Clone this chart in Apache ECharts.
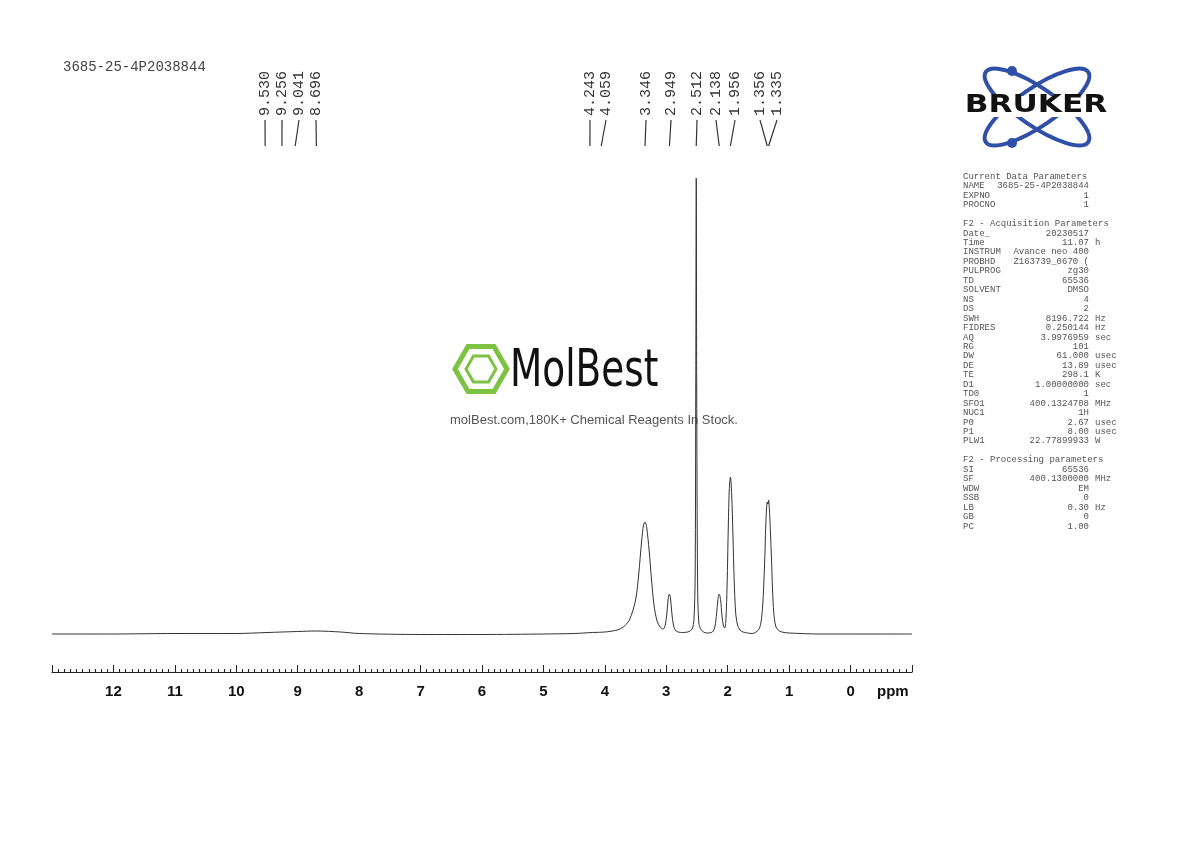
<!DOCTYPE html>
<html><head><meta charset="utf-8">
<script src="https://cdn.jsdelivr.net/npm/echarts@6/dist/echarts.min.js"></script>
<style>html,body{margin:0;padding:0;background:#fff}#c{width:1190px;height:842px}</style>
</head><body><div id="c"></div>
<script>
const spectrumPpm = [13.0,12,11,10,9.5,9,8.7,8.3,8,7,6,5,4.5,4.2,4.0,3.8,3.7,3.6,3.5,3.45,3.4,3.37,3.346,3.32,3.28,3.24,3.2,3.15,3.1,3.05,3.02,2.99,2.97,2.949,2.93,2.91,2.88,2.84,2.75,2.65,2.58,2.55,2.53,2.52,2.512,2.505,2.49,2.47,2.43,2.35,2.25,2.21,2.18,2.16,2.138,2.115,2.095,2.07,2.05,2.03,2.01,1.99,1.975,1.956,1.935,1.915,1.895,1.87,1.84,1.8,1.75,1.6,1.5,1.46,1.43,1.4,1.38,1.356,1.345,1.335,1.315,1.29,1.27,1.25,1.22,1.18,1.12,1.0,0.5,0,-0.5,-1];
const spectrumInt = [1,1,1.5,1.5,2.5,3.5,4,3,1.5,0.5,0.5,1,1.5,2.5,3,5,8,15,35,60,95,110,113,108,85,55,30,14,8,6,9,22,36,41,36,22,9,4,2.5,3,6,15,60,250,457,250,50,12,5,2,3,8,22,35,41,35,20,9,7,15,50,110,145,158,140,100,55,22,10,5,3,1.5,5,12,30,70,110,133,131,135,118,80,45,22,9,5,3,2,1,1,1,1];
const peakLabels = ['9.530','9.256','9.041','8.696','4.243','4.059','3.346','2.949','2.512','2.138','1.956','1.356','1.335'];
const labelX = [265,282,299,316,590,606,646,671,697,716,735,760,777];
const xTicks = [12,11,10,9,8,7,6,5,4,3,2,1,0];
const params = [
['Current Data Parameters',''],['NAME','3685-25-4P2038844'],['EXPNO','1'],['PROCNO','1'],['',''],
['F2 - Acquisition Parameters',''],['Date_','20230517'],['Time','11.07 h'],['INSTRUM','Avance neo 400'],['PROBHD','Z163739_0670 ('],['PULPROG','zg30'],['TD','65536'],['SOLVENT','DMSO'],['NS','4'],['DS','2'],['SWH','8196.722 Hz'],['FIDRES','0.250144 Hz'],['AQ','3.9976959 sec'],['RG','101'],['DW','61.000 usec'],['DE','13.89 usec'],['TE','298.1 K'],['D1','1.00000000 sec'],['TD0','1'],['SFO1','400.1324708 MHz'],['NUC1','1H'],['P0','2.67 usec'],['P1','8.00 usec'],['PLW1','22.77899933 W'],['',''],
['F2 - Processing parameters',''],['SI','65536'],['SF','400.1300000 MHz'],['WDW','EM'],['SSB','0'],['LB','0.30 Hz'],['GB','0'],['PC','1.00']];

const chart = echarts.init(document.getElementById('c'));
const data = spectrumPpm.map((p,i)=>[p, spectrumInt[i]]);
const mono = 'Liberation Mono';
const g = [];
g.push({type:'text',left:63,top:60,style:{text:'3685-25-4P2038844',font:'14px '+mono,fill:'#444'}});
params.forEach((r,i)=>{
  const y = 172 + i*9.45;
  if(!r[0]) return;
  g.push({type:'text',x:963,y:y,style:{text:r[0],font:'9px '+mono,fill:'#555'}});
  if(!r[1]) return;
  const parts = r[1].split(' ');
  let val=r[1], unit='';
  if(parts.length==2 && ['Hz','h','sec','usec','K','MHz','W'].includes(parts[1])){val=parts[0];unit=parts[1];}
  g.push({type:'text',x:1089,y:y,style:{text:val,font:'9px '+mono,fill:'#555',align:'right'}});
  if(unit) g.push({type:'text',x:1095,y:y,style:{text:unit,font:'9px '+mono,fill:'#555'}});
});
g.push({type:'ellipse',shape:{cx:1037,cy:107,rx:62,ry:19},rotation:0.6,originX:1037,originY:107,style:{fill:'none',stroke:'#3050a8',lineWidth:4}});
g.push({type:'ellipse',shape:{cx:1037,cy:107,rx:62,ry:19},rotation:-0.6,originX:1037,originY:107,style:{fill:'none',stroke:'#3050a8',lineWidth:4}});
g.push({type:'circle',shape:{cx:1012,cy:71,r:5},style:{fill:'#3050a8'}});
g.push({type:'circle',shape:{cx:1012,cy:143,r:5},style:{fill:'#3050a8'}});
g.push({type:'rect',shape:{x:958,y:96,width:157,height:21},style:{fill:'#fff'}});
g.push({type:'text',x:1036,y:94,scaleX:1.3,style:{text:'BRUKER',font:'900 24px DejaVu Sans',fill:'#111',align:'center'}});
const hx=481,hy=369,hr=26;
const pts=[];for(let k=0;k<6;k++){const a=Math.PI/3*k;pts.push([hx+hr*Math.cos(a),hy+hr*Math.sin(a)]);}
g.push({type:'polygon',shape:{points:pts},style:{fill:'none',stroke:'#7dc242',lineWidth:5}});
const pts2=[];for(let k=0;k<6;k++){const a=Math.PI/3*k;pts2.push([hx+15*Math.cos(a),hy+15*Math.sin(a)]);}
g.push({type:'polygon',shape:{points:pts2},style:{fill:'none',stroke:'#7dc242',lineWidth:3}});
g.push({type:'text',x:510,y:346,scaleX:0.72,style:{text:'MolBest',font:'52px DejaVu Sans',fill:'#111'}});
g.push({type:'text',x:594,y:414,style:{text:'molBest.com,180K+ Chemical Reagents In Stock.',font:'13px Liberation Sans',fill:'#555',align:'center'}});
g.push({type:'text',x:877,y:684,style:{text:'ppm',font:'bold 15px Liberation Sans',fill:'#111'}});

chart.setOption({
  animation:false,
  grid:{left:52,right:278,top:178,bottom:170},
  xAxis:{type:'value',inverse:true,min:-1,max:13,interval:1,
    axisLine:{onZero:false,lineStyle:{color:'#222'}},
    axisTick:{inside:true,length:7,lineStyle:{color:'#222'}},
    minorTick:{show:true,splitNumber:10,length:3,lineStyle:{color:'#222'}},
    splitLine:{show:false},
    axisLabel:{margin:12,fontWeight:'bold',fontSize:15,fontFamily:'Liberation Sans',color:'#111',
      formatter:v=>xTicks.includes(v)?String(v):''}},
  yAxis:{type:'value',min:-37,max:457,show:false},
  series:[{type:'line',data:data,smooth:0.3,symbol:'none',lineStyle:{color:'#333',width:1}}],
  graphic:g
});
const g2=[];
peakLabels.forEach((t,i)=>{
  const px = chart.convertToPixel({xAxisIndex:0}, parseFloat(t));
  const lx = labelX[i];
  g2.push({type:'text',x:lx,y:116,rotation:Math.PI/2,style:{text:t,font:'15px '+mono,fill:'#333',align:'left',verticalAlign:'middle'}});
  g2.push({type:'polyline',shape:{points:[[lx,120],[px,146]]},style:{stroke:'#333',lineWidth:1.2,fill:'none'}});
});
chart.setOption({graphic:g.concat(g2)});
</script></body></html>
